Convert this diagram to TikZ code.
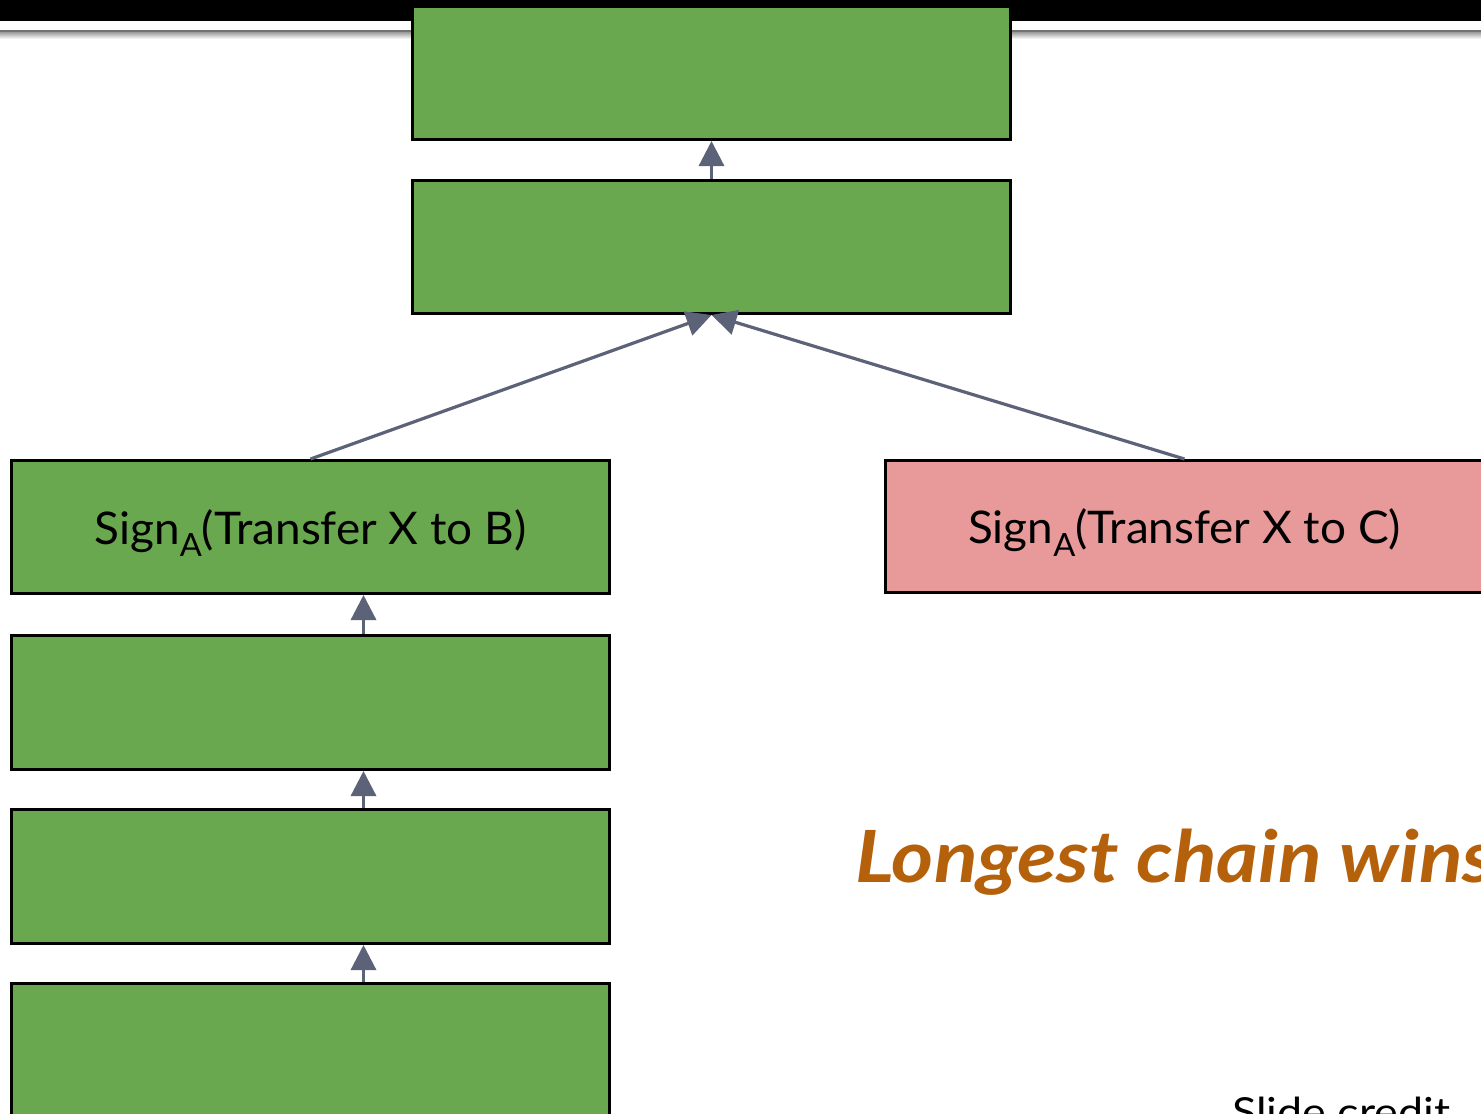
\documentclass[tikz,border=0pt]{standalone}
\usepackage{fontspec}
\setmainfont{Lato}
\usetikzlibrary{arrows.meta}
\definecolor{blockgreen}{RGB}{106,168,79}
\definecolor{blockred}{RGB}{232,153,153}
\definecolor{linkgray}{RGB}{92,99,120}
\definecolor{titleorange}{RGB}{181,96,10}
\tikzset{
  block/.style={draw=black, line width=3pt, minimum width=598pt, minimum height=133pt,
    inner sep=0pt, anchor=north west, font=\fontsize{45}{50}\selectfont},
  greenblock/.style={block, fill=blockgreen},
  redblock/.style={block, fill=blockred},
  link/.style={draw=linkgray, line width=3.2pt, -{Triangle[length=25pt,width=25pt]}},
}
\newcommand{\signA}{Sign\raisebox{-0.28em}{\fontsize{32}{34}\selectfont A}}
\newcommand{\blocktext}[1]{\raisebox{-6pt}[\height][\depth]{\scalebox{1.02}[1]{#1}}}
\begin{document}
\begin{tikzpicture}[x=1pt,y=-1pt]
  \useasboundingbox (0,0) rectangle (1481,1114);
  \clip (0,0) rectangle (1481,1114);
  % slide header bar and rule
  \fill[black] (0,0) rectangle (1481,21);
  \shade[top color=black!45, bottom color=white] (0,31) rectangle (1481,39);
  \fill[black!55] (0,29.5) rectangle (1481,32);
  % blocks
  \node[greenblock] (b1) at (411,5) {};
  \node[greenblock] (b2) at (411,179) {};
  \node[greenblock] (bB) at (10,459) {\blocktext{\signA(Transfer X to B)}};
  \node[redblock, minimum height=132pt] (bC) at (884,459) {\blocktext{\signA(Transfer X to C)}};
  \node[greenblock, minimum height=134pt] (b4) at (10,634) {};
  \node[greenblock, minimum height=134pt] (b5) at (10,808) {};
  \node[greenblock, minimum height=140pt] (b6) at (10,982) {};
  % links between blocks
  \draw[link] (b2.north) -- (b1.south);
  \draw[link] (bB.north) -- (b2.south);
  \draw[link] (bC.north) -- (b2.south);
  \draw[link] ([xshift=53pt]b4.north) -- ([xshift=53pt]bB.south);
  \draw[link] ([xshift=53pt]b5.north) -- ([xshift=53pt]b4.south);
  \draw[link] ([xshift=53pt]b6.north) -- ([xshift=53pt]b5.south);
  % captions
  \node[anchor=base west, inner sep=0pt, text=titleorange,
        font=\fontsize{72}{80}\selectfont\bfseries\itshape] (title) at (855,882) {\scalebox{1.12}[1]{Longest chain wins}};
  \node[anchor=base west, inner sep=0pt, font=\fontsize{40}{44}\selectfont] (credit) at (1232,1126) {\scalebox{1.12}[1]{Slide credit}};
\end{tikzpicture}
\end{document}
